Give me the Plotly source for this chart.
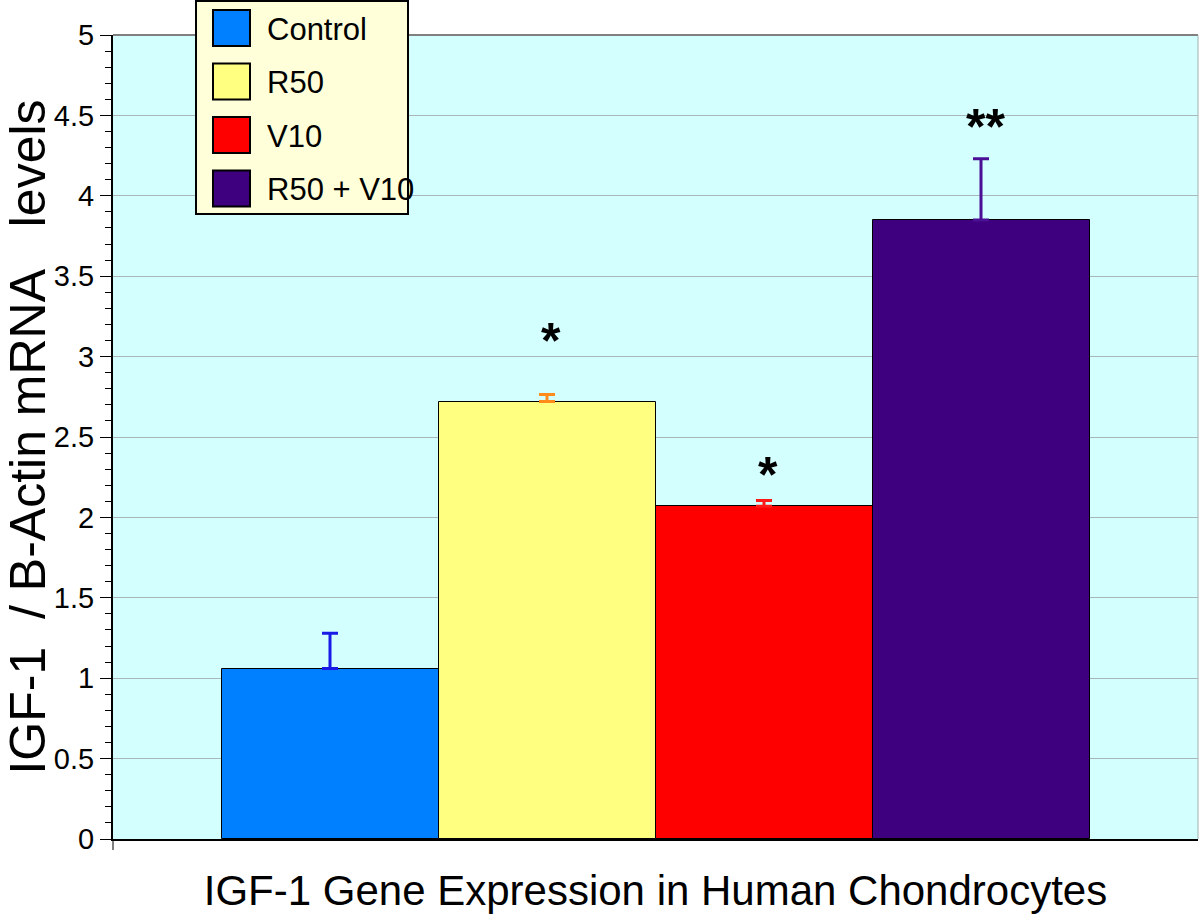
import plotly.graph_objects as go

categories = ["Control", "R50", "V10", "R50 + V10"]
means = [1.06, 2.72, 2.07, 3.85]
errors = [0.22, 0.045, 0.035, 0.38]
bar_colors = ["#0080FF", "#FFFF80", "#FF0000", "#3F007F"]
error_colors = ["#1A1AE6", "#FF8C1A", "#FF1A1A", "#4B0F96"]
sig_labels = ["", "*", "*", "**"]
sig_y = [None, 3.10, 2.265, 4.43]
y_ticks = [0, 0.5, 1, 1.5, 2, 2.5, 3, 3.5, 4, 4.5, 5]
y_tick_text = ["0", "0.5", "1", "1.5", "2", "2.5", "3", "3.5", "4", "4.5", "5"]

FONT = "Liberation Sans, Arial, Helvetica, sans-serif"
W, H = 1200, 917
ML, MR, MT, MB = 113, 2, 35, 78
PW, PH = W - ML - MR, H - MT - MB


def px_x(x):
    return (x - ML) / PW


def px_y(y):
    return (H - MB - y) / PH


fig = go.Figure()
for cat, m, e, bc, ec in zip(categories, means, errors, bar_colors, error_colors):
    fig.add_trace(go.Bar(
        x=[cat], y=[m], width=1, name=cat,
        marker=dict(color=bc, line=dict(color="black", width=1)),
        error_y=dict(type="data", array=[e], arrayminus=[0], symmetric=False,
                     color=ec, thickness=3, width=8),
        showlegend=False,
    ))

for cat, lab, yy in zip(categories, sig_labels, sig_y):
    if lab:
        fig.add_annotation(x=cat, y=yy, text="<b>" + lab + "</b>", showarrow=False,
                           font=dict(family=FONT, size=50, color="black"),
                           xanchor="center", yanchor="middle", xshift=4)

shapes = []
# legend box
shapes.append(dict(type="rect", xref="paper", yref="paper",
                   x0=px_x(196), x1=px_x(408), y0=px_y(214), y1=px_y(1),
                   fillcolor="#FFFFD9", line=dict(color="black", width=2), layer="above"))
row0, step = 28, 53.5
for i, (cat, bc) in enumerate(zip(categories, bar_colors)):
    cy = row0 + i * step
    shapes.append(dict(type="rect", xref="paper", yref="paper",
                       x0=px_x(213), x1=px_x(250), y0=px_y(cy + 18), y1=px_y(cy - 18),
                       fillcolor=bc, line=dict(color="black", width=2), layer="above"))
    fig.add_annotation(xref="paper", yref="paper", x=px_x(265), y=px_y(cy + 1),
                       text=cat, showarrow=False, xanchor="left", yanchor="middle",
                       font=dict(family=FONT, size=31, color="black"))
# top and right frame
shapes.append(dict(type="line", xref="paper", yref="paper", x0=0, x1=1, y0=1, y1=1,
                   line=dict(color="#808080", width=2), layer="below"))
shapes.append(dict(type="line", xref="paper", yref="paper", x0=1, x1=1, y0=0, y1=1,
                   line=dict(color="#A0B0B0", width=1), layer="below"))
# small tick below the x axis at the left corner
shapes.append(dict(type="line", xref="paper", yref="paper", x0=0, x1=0, y0=0, y1=-11 / PH,
                   line=dict(color="black", width=1)))
fig.update_layout(shapes=shapes)

fig.update_layout(
    width=W, height=H,
    margin=dict(l=ML, r=MR, t=MT, b=MB),
    paper_bgcolor="white", plot_bgcolor="#D4FFFF",
    barmode="overlay", bargap=0,
    font=dict(family=FONT, color="black"),
)
fig.update_xaxes(
    type="category", categoryorder="array", categoryarray=categories,
    range=[-1, 4], showticklabels=False, ticks="", showgrid=False,
    showline=True, linecolor="black", linewidth=2, zeroline=False,
    title=dict(text="IGF-1 Gene Expression in Human Chondrocytes",
               font=dict(family=FONT, size=42, color="black"), standoff=36),
)
fig.update_yaxes(
    range=[0, 5], tickvals=y_ticks, ticktext=y_tick_text,
    ticks="outside", ticklen=11, tickwidth=1, tickcolor="black",
    minor=dict(dtick=0.1, ticks="outside", ticklen=6, tickwidth=1, tickcolor="black", showgrid=False),
    showgrid=True, gridcolor="#A8B8B8", gridwidth=1,
    showline=True, linecolor="black", linewidth=2, zeroline=False,
    tickfont=dict(family=FONT, size=29, color="black"),
    title=dict(text="IGF-1\u00a0\u00a0/ B-Actin mRNA\u00a0\u00a0\u00a0levels",
               font=dict(family=FONT, size=50, color="black"), standoff=3),
)

fig.write_html("out.html", config={"displayModeBar": False},
               post_script="document.body.style.margin='0px';document.body.style.overflow='hidden';")
